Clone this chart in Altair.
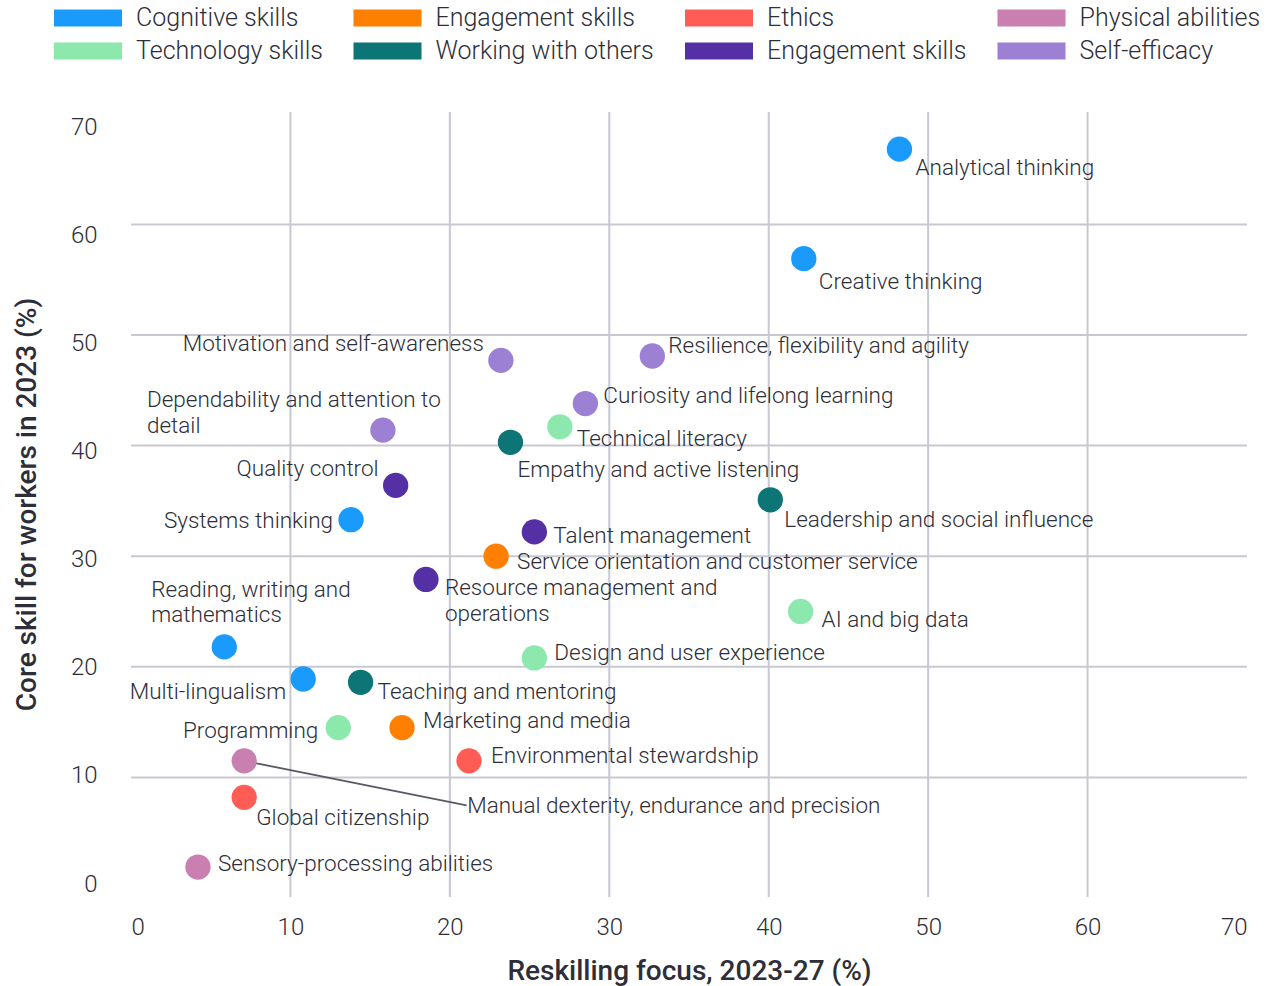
import altair as alt
import pandas as pd

# Skills: reskilling focus 2023-27 (%) vs. share of firms naming it a core skill in 2023 (%)
skills = [
    "Analytical thinking",
    "Creative thinking",
    "Motivation and self-awareness",
    "Resilience, flexibility and agility",
    "Curiosity and lifelong learning",
    "Dependability and attention to\ndetail",
    "Technical literacy",
    "Empathy and active listening",
    "Quality control",
    "Leadership and social influence",
    "Systems thinking",
    "Talent management",
    "Service orientation and customer service",
    "Resource management and\noperations",
    "AI and big data",
    "Reading, writing and\nmathematics",
    "Design and user experience",
    "Multi-lingualism",
    "Teaching and mentoring",
    "Programming",
    "Marketing and media",
    "Environmental stewardship",
    "Manual dexterity, endurance and precision",
    "Global citizenship",
    "Sensory-processing abilities",
]
reskilling = [48.2, 42.2, 23.2, 32.7, 28.5, 15.8, 26.9, 23.8, 16.6, 40.1, 13.8, 25.3, 22.9,
              18.5, 42.0, 5.85, 25.3, 10.8, 14.4, 13.0, 17.0, 21.2, 7.1, 7.1, 4.2]
core = [66.8, 56.9, 47.7, 48.1, 43.8, 41.4, 41.7, 40.3, 36.4, 35.1, 33.3, 32.2, 30.0,
        27.9, 25.0, 21.8, 20.8, 18.9, 18.6, 14.5, 14.5, 11.5, 11.5, 8.2, 1.9]
groups = [
    "Cognitive skills", "Cognitive skills", "Self-efficacy", "Self-efficacy", "Self-efficacy",
    "Self-efficacy", "Technology skills", "Working with others", "Management skills",
    "Working with others", "Cognitive skills", "Management skills", "Engagement skills",
    "Management skills", "Technology skills", "Cognitive skills", "Technology skills",
    "Cognitive skills", "Working with others", "Technology skills", "Engagement skills",
    "Ethics", "Physical abilities", "Ethics", "Physical abilities",
]

# Legend order (row by row, four columns) and colours
group_order = ["Cognitive skills", "Engagement skills", "Ethics", "Physical abilities",
               "Technology skills", "Working with others", "Management skills", "Self-efficacy"]
group_colors = ["#1a9bfc", "#ff7f00", "#ff5c55", "#c97fb0",
                "#8ce8ad", "#0d7575", "#5530a4", "#9b80d4"]

# Where each label sits relative to its dot: text alignment and pixel offsets
# (dy is the centre of the first line)
label_place = {
    "Analytical thinking": ("left", 16, 19),
    "Creative thinking": ("left", 15, 23),
    "Motivation and self-awareness": ("right", -17, -16),
    "Resilience, flexibility and agility": ("left", 16, -10),
    "Curiosity and lifelong learning": ("left", 18, -8),
    "Dependability and attention to\ndetail": ("left", -236, -30),
    "Technical literacy": ("left", 17, 12),
    "Empathy and active listening": ("left", 7, 28),
    "Quality control": ("right", -17, -16),
    "Leadership and social influence": ("left", 14, 20),
    "Systems thinking": ("right", -18, 1),
    "Talent management": ("left", 19, 4),
    "Service orientation and customer service": ("left", 21, 6),
    "Resource management and\noperations": ("left", 19, 9),
    "AI and big data": ("left", 21, 8),
    "Reading, writing and\nmathematics": ("left", -73, -57),
    "Design and user experience": ("left", 20, -5),
    "Multi-lingualism": ("right", -17, 13),
    "Teaching and mentoring": ("left", 17, 10),
    "Programming": ("right", -20, 3),
    "Marketing and media": ("left", 21, -7),
    "Environmental stewardship": ("left", 22, -5),
    "Manual dexterity, endurance and precision": ("left", 223, 45),
    "Global citizenship": ("left", 12, 21),
    "Sensory-processing abilities": ("left", 20, -3),
}
# Label joined to its dot by a leader line, with the line's far end (axis units)
callout_skill = "Manual dexterity, endurance and precision"
callout_end = (21.05, 7.47)

grid_values = [10, 20, 30, 40, 50, 60]
x_ticks = [0, 10, 20, 30, 40, 50, 60, 70]
y_ticks = [0, 10, 20, 30, 40, 50, 60, 70]

FONT = "Roboto"
INK = "#2e2e38"
GRID = "#c8c8d2"

df = pd.DataFrame({"skill": skills, "reskilling": reskilling, "core": core, "group": groups})
df["align"] = df["skill"].map(lambda s: label_place[s][0])
df["dx"] = df["skill"].map(lambda s: label_place[s][1])
df["dy"] = df["skill"].map(lambda s: label_place[s][2])

x_scale = alt.Scale(domain=[0, 70], nice=False, zero=False)
y_scale = alt.Scale(domain=[-0.81, 70.16], nice=False, zero=False)

x_axis = alt.Axis(
    values=x_ticks, title="Reskilling focus, 2023-27 (%)", grid=False, domain=False,
    ticks=False, tickSize=0, labelPadding=18, labelFont=FONT, labelFontSize=24,
    labelFontWeight=300, labelColor=INK, titleFont=FONT, titleFontSize=28,
    titleFontWeight=500, titleColor=INK, titleBaseline="middle", titleY=74,
)

X = lambda f: alt.X(f, scale=x_scale, axis=x_axis)
Y = lambda f: alt.Y(f, scale=y_scale, axis=None)

grid_df = pd.DataFrame({"v": grid_values})
vgrid = alt.Chart(grid_df).mark_rule(color=GRID, strokeWidth=2).encode(x=X("v:Q"))
hgrid = alt.Chart(grid_df).mark_rule(color=GRID, strokeWidth=2).encode(y=Y("v:Q"))

lead_df = df[df["skill"] == callout_skill].assign(x_end=callout_end[0], y_end=callout_end[1])
leader = alt.Chart(lead_df).mark_rule(color="#5a5a66", strokeWidth=1.8).encode(
    x=X("reskilling:Q"), y=Y("core:Q"), x2="x_end:Q", y2="y_end:Q"
)

# Wide legend swatch: a 4x1 bar drawn from a symbol of nominal size 34 px
SWATCH = "M-1,-0.5H3V0.5H-1Z"

points = alt.Chart(df).mark_circle(size=640, opacity=1).encode(
    x=X("reskilling:Q"),
    y=Y("core:Q"),
    color=alt.Color(
        "group:N",
        scale=alt.Scale(domain=group_order, range=group_colors),
        legend=alt.Legend(
            orient="none", legendX=-77, legendY=-111, columns=4, direction="horizontal",
            title=None, symbolType=SWATCH, symbolSize=1156,
            symbolStrokeWidth=0, symbolOpacity=1, labelFont=FONT, labelFontSize=25,
            labelFontWeight=300, labelColor=INK, labelOffset=48, labelLimit=0,
            columnPadding=30.5, rowPadding=3,
            labelExpr="datum.label == 'Management skills' ? 'Engagement skills' : datum.label",
        ),
    ),
)


def label_layer(align):
    return alt.Chart(df).transform_filter(alt.datum.align == align).mark_text(
        align=align, baseline="middle", font=FONT, fontSize=22.5, fontWeight=300,
        color=INK, lineBreak="\n", lineHeight=25.5,
        dx=alt.ExprRef(expr="datum.dx"), dy=alt.ExprRef(expr="datum.dy"),
    ).encode(
        x=X("reskilling:Q"),
        y=Y("core:Q"),
        text="skill:N",
    )


main = alt.layer(hgrid, vgrid, leader, points, label_layer("left"), label_layer("right"))

# Left axis labels and title
y_label_axis = alt.Chart(pd.DataFrame({"t": y_ticks})).mark_point(opacity=0).encode(
    y=alt.Y(
        "t:Q",
        scale=alt.Scale(domain=[-1.2, 71.42], nice=False, zero=False),
        axis=alt.Axis(
            orient="left", values=y_ticks, title="Core skill for workers in 2023 (%)",
            grid=False, domain=False, ticks=False, tickSize=0, labelPadding=34,
            labelFont=FONT, labelFontSize=24, labelFontWeight=300, labelColor=INK,
            titleFont=FONT, titleFontSize=28, titleFontWeight=500, titleColor=INK,
            titleAngle=-90, titleBaseline="middle", titleX=-104, titleY=392,
        ),
    )
)

chart = (
    alt.layer(main, y_label_axis)
    .resolve_scale(y="independent")
    .properties(
        width=1116, height=785,
        autosize=alt.AutoSizeParams(type="none"),
        padding={"left": 131, "top": 112, "right": 18, "bottom": 89},
        background="white",
    )
    .configure_view(stroke=None)
)

chart.save("out.html", embed_options={"renderer": "svg", "actions": False})
